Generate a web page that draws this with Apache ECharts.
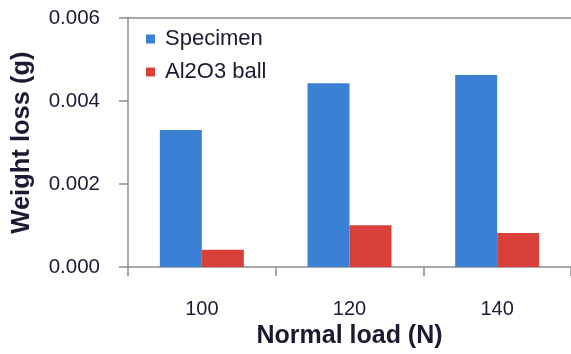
<!DOCTYPE html>
<html>
<head>
<meta charset="utf-8">
<script src="https://cdn.jsdelivr.net/npm/echarts@6/dist/echarts.min.js"></script>
<style>
  html, body { margin: 0; padding: 0; background: #fff; }
  #chart { width: 571px; height: 354px; }
</style>
</head>
<body>
<div id="chart"></div>
<script>
// Weight loss of specimen and Al2O3 counter ball at each normal load
const loads = ['100', '120', '140'];
const specimenLoss = [0.0033, 0.00443, 0.00463];
const ballLoss = [0.00042, 0.00101, 0.00082];
const yTicks = [0, 0.002, 0.004, 0.006];

const textColor = '#1a1a33';
const axisColor = '#8c8c8c';
const font = 'Liberation Sans, Arial, sans-serif';

const chart = echarts.init(document.getElementById('chart'), null, { renderer: 'canvas' });

chart.setOption({
  animation: false,
  backgroundColor: '#fff',
  grid: { left: 128, top: 18, right: 0, bottom: 83.5, containLabel: false },
  legend: {
    orient: 'vertical',
    left: 146,
    top: 28,
    padding: 0,
    itemGap: 11,
    itemWidth: 9,
    itemHeight: 9,
    icon: 'rect',
    textStyle: { fontFamily: font, fontSize: 22, color: textColor, padding: [0, 0, 0, 5] },
    data: ['Specimen', 'Al2O3 ball']
  },
  xAxis: [
    {
      type: 'category',
      data: loads,
      name: 'Normal load (N)',
      nameLocation: 'middle',
      nameGap: 52,
      nameTextStyle: { fontFamily: font, fontSize: 25, fontWeight: 'bold', color: textColor },
      axisLine: { lineStyle: { color: axisColor, width: 1.5 } },
      axisTick: { show: true, length: 9, inside: false, lineStyle: { color: axisColor, width: 1.5 } },
      axisLabel: { fontFamily: font, fontSize: 20, color: textColor, margin: 32 },
      splitLine: { show: false }
    },
    {
      // plain border line along the top of the plot area
      type: 'category',
      position: 'top',
      data: loads,
      axisLine: { show: true, lineStyle: { color: axisColor, width: 1.5 } },
      axisTick: { show: false },
      axisLabel: { show: false },
      splitLine: { show: false }
    }
  ],
  yAxis: {
    type: 'value',
    min: yTicks[0],
    max: yTicks[yTicks.length - 1],
    interval: 0.002,
    name: 'Weight loss (g)',
    nameLocation: 'middle',
    nameGap: 93,
    nameTextStyle: { fontFamily: font, fontSize: 25.5, fontWeight: 'bold', color: textColor },
    axisLine: { show: true, lineStyle: { color: axisColor, width: 1.5 } },
    axisTick: { show: true, length: 9, lineStyle: { color: axisColor, width: 1.5 } },
    axisLabel: {
      fontFamily: font, fontSize: 20.5, color: textColor, margin: 28,
      formatter: v => v.toFixed(3)
    },
    splitLine: { show: false }
  },
  series: [
    {
      name: 'Specimen',
      type: 'bar',
      data: specimenLoss,
      barWidth: 42,
      barGap: 0,
      itemStyle: { color: '#3b80d5' }
    },
    {
      name: 'Al2O3 ball',
      type: 'bar',
      data: ballLoss,
      barWidth: 42,
      barGap: 0,
      itemStyle: { color: '#d9403a' }
    }
  ]
});
</script>
</body>
</html>
